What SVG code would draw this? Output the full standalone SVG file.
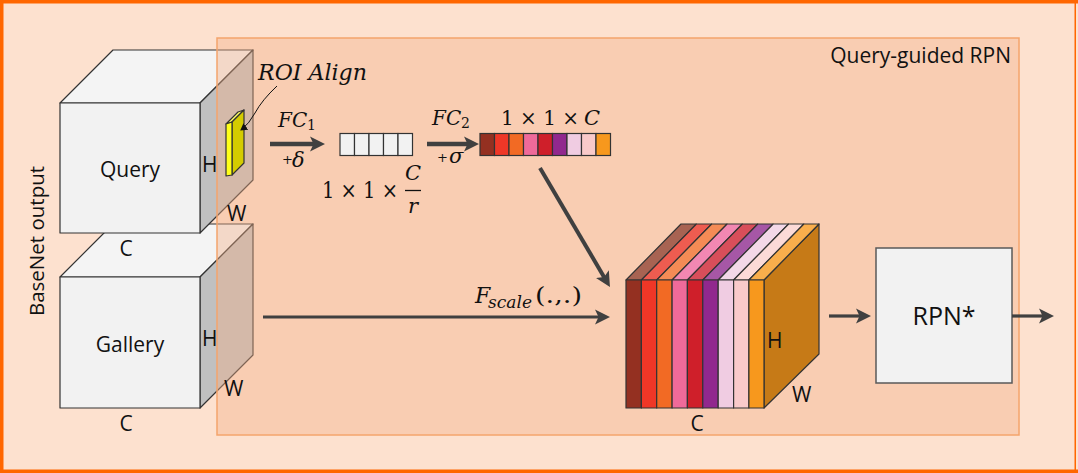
<svg xmlns="http://www.w3.org/2000/svg" width="1078" height="473" viewBox="0 0 1078 473">
<style>
.t{font-family:"Open Sans","Noto Sans","Liberation Sans",sans-serif;fill:#111}
.m{font-family:"DejaVu Serif","Liberation Serif",serif;fill:#111}
.i{font-style:italic}
.edge{stroke:#333;stroke-width:1.2;stroke-linejoin:round}
.arr{stroke:#404040;fill:none;marker-end:url(#ah)}
.cell{stroke:#333;stroke-width:1.2}
</style>
<defs>
<marker id="ah" markerUnits="userSpaceOnUse" markerWidth="16" markerHeight="16" refX="5" refY="8" orient="auto" viewBox="0 0 16 16">
<path d="M0,0.5 L15,8 L0,15.5 L3.5,8 z" fill="#404040"/>
</marker>
<marker id="sa" markerUnits="userSpaceOnUse" markerWidth="8" markerHeight="8" refX="6" refY="4" orient="auto" viewBox="0 0 8 8">
<path d="M0,0 L7,4 L0,8 z" fill="#111"/>
</marker>
</defs>

<!-- background and frame -->
<rect x="0" y="0" width="1078" height="473" fill="#FDE1CF"/>
<rect x="0" y="0" width="1078" height="3.5" fill="#FF6600"/>
<rect x="0" y="0" width="3.5" height="473" fill="#FF6600"/>
<rect x="0" y="469.5" width="1078" height="3.5" fill="#FF6600"/>
<rect x="1074.5" y="0" width="1.5" height="473" fill="#FF6600"/>

<text class="t" font-size="20.5" text-anchor="middle" transform="translate(44,241) rotate(-90)">BaseNet output</text>

<!-- Gallery cube -->
<g id="gallery">
<polygon class="edge" points="60,277 113,224 253,224 200,277" fill="#F4F4F4"/>
<polygon class="edge" points="200,277 253,224 253,355 200,408" fill="#C0C0C0"/>
<rect class="edge" x="60" y="277" width="140" height="131" fill="#F2F2F2"/>
</g>

<!-- Query cube -->
<g id="query">
<polygon class="edge" points="60,103 113,50 253,50 200,103" fill="#F4F4F4"/>
<polygon class="edge" points="200,103 253,50 253,180 200,233" fill="#C0C0C0"/>
<rect class="edge" x="60" y="103" width="140" height="130" fill="#F2F2F2"/>
</g>

<!-- Query-guided RPN region -->
<g id="qrpn">
<rect x="217" y="38" width="802" height="397" fill="#F3B086" fill-opacity="0.4" stroke="#F4A46C" stroke-width="1.5"/>
<text class="t" x="1011" y="63" font-size="21" text-anchor="end">Query-guided RPN</text>
</g>

<g id="gallery-labels">
<text class="t" x="130" y="352" font-size="21" text-anchor="middle">Gallery</text>
<text class="t" x="202" y="346" font-size="21">H</text>
<text class="t" x="224" y="396" font-size="21">W</text>
<text class="t" x="126" y="431" font-size="21" text-anchor="middle">C</text>
</g>

<g id="query-labels">
<text class="t" x="130" y="177" font-size="21" text-anchor="middle">Query</text>
<text class="t" x="202" y="172" font-size="21">H</text>
<text class="t" x="227" y="221" font-size="21">W</text>
<text class="t" x="126" y="256" font-size="21" text-anchor="middle">C</text>
</g>

<!-- ROI slab -->
<g id="roi">
<polygon class="edge" points="226,124 238,112 244,110 232,122" fill="#FFFF66" stroke-width="0.8"/>
<polygon class="edge" points="232,122 244,110 244,163 232,175" fill="#D4CC00" stroke-width="0.8"/>
<polygon class="edge" points="226,124 232,122 232,175 226,176" fill="#FFFF1A" stroke-width="0.8"/>
<text class="m i" x="258" y="80" font-size="23" textLength="109" lengthAdjust="spacingAndGlyphs">ROI Align</text>
</g>

<!-- FC1 vector -->
<g id="fc1vec">
<rect class="cell" x="340" y="133.5" width="14.5" height="22" fill="#F2F2F2"/>
<rect class="cell" x="354.5" y="133.5" width="14.5" height="22" fill="#F2F2F2"/>
<rect class="cell" x="369" y="133.5" width="14.5" height="22" fill="#F2F2F2"/>
<rect class="cell" x="383.5" y="133.5" width="14.5" height="22" fill="#F2F2F2"/>
<rect class="cell" x="398" y="133.5" width="14.5" height="22" fill="#F2F2F2"/>
<text class="m" x="322" y="198" font-size="22" textLength="76" lengthAdjust="spacingAndGlyphs">1 × 1 ×</text>
<text class="m i" x="405" y="180" font-size="21">C</text>
<line x1="405" y1="190.5" x2="421" y2="190.5" stroke="#111" stroke-width="1.3"/>
<text class="m i" x="408" y="213" font-size="21">r</text>
</g>

<!-- FC2 vector -->
<g id="fc2vec">
<rect class="cell" x="480" y="133.5" width="14.5" height="22" fill="#943021"/>
<rect class="cell" x="494.5" y="133.5" width="14.5" height="22" fill="#EF3727"/>
<rect class="cell" x="509" y="133.5" width="14.5" height="22" fill="#F26A24"/>
<rect class="cell" x="523.5" y="133.5" width="14.5" height="22" fill="#EF6A9A"/>
<rect class="cell" x="538" y="133.5" width="14.5" height="22" fill="#CF1F2A"/>
<rect class="cell" x="552.5" y="133.5" width="14.5" height="22" fill="#91288E"/>
<rect class="cell" x="567" y="133.5" width="14.5" height="22" fill="#F0CCE2"/>
<rect class="cell" x="581.5" y="133.5" width="14.5" height="22" fill="#F9CACA"/>
<rect class="cell" x="596" y="133.5" width="14.5" height="22" fill="#F7981D"/>
<text class="m" x="501" y="125" font-size="20">1 × 1 ×<tspan font-style="italic" font-size="21" dx="5">C</tspan></text>
</g>

<!-- scaled cube -->
<g id="scaled">
<polygon class="edge" points="764,280 819,224 819,354 764,408" fill="#C67A17"/>
<g class="edge">
<polygon points="626,280 681,224 696.4,224 641.4,280" fill="#A86352"/>
<polygon points="641.4,280 696.4,224 711.7,224 656.7,280" fill="#EE5C50"/>
<polygon points="656.7,280 711.7,224 727.1,224 672.1,280" fill="#F48B55"/>
<polygon points="672.1,280 727.1,224 742.4,224 687.4,280" fill="#F287B2"/>
<polygon points="687.4,280 742.4,224 757.8,224 702.8,280" fill="#D84E5A"/>
<polygon points="702.8,280 757.8,224 773.2,224 718.2,280" fill="#A657A6"/>
<polygon points="718.2,280 773.2,224 788.6,224 733.6,280" fill="#F3D8E8"/>
<polygon points="733.6,280 788.6,224 803.9,224 748.9,280" fill="#FCDAD7"/>
<polygon points="748.9,280 803.9,224 819,224 764,280" fill="#F9AE4C"/>
<rect x="626" y="280" width="15.4" height="128" fill="#943021"/>
<rect x="641.4" y="280" width="15.3" height="128" fill="#EF3727"/>
<rect x="656.7" y="280" width="15.4" height="128" fill="#F26A24"/>
<rect x="672.1" y="280" width="15.3" height="128" fill="#EF6A9A"/>
<rect x="687.4" y="280" width="15.4" height="128" fill="#CF1F2A"/>
<rect x="702.8" y="280" width="15.4" height="128" fill="#91288E"/>
<rect x="718.2" y="280" width="15.4" height="128" fill="#F0CCE2"/>
<rect x="733.6" y="280" width="15.3" height="128" fill="#F9CACA"/>
<rect x="748.9" y="280" width="15.1" height="128" fill="#F7981D"/>
</g>
<text class="t" x="767" y="348" font-size="21">H</text>
<text class="t" x="792" y="402" font-size="21">W</text>
<text class="t" x="697" y="431" font-size="21" text-anchor="middle">C</text>
</g>

<!-- RPN* -->
<g id="rpn">
<rect x="876" y="248" width="136" height="135" fill="#F2F2F2" stroke="#595959" stroke-width="1.5"/>
<text class="t" x="944" y="325" font-size="25" text-anchor="middle">RPN*</text>
</g>

<!-- connectors -->
<g id="connectors">
<path d="M277,86 Q262,100 255,113 Q249,124 241,130" fill="none" stroke="#111" stroke-width="1" marker-end="url(#sa)"/>
<line class="arr" x1="270" y1="144" x2="315" y2="144" stroke-width="4.5"/>
<line class="arr" x1="427" y1="144" x2="469" y2="144" stroke-width="4.5"/>
<line class="arr" x1="540" y1="168" x2="604.9" y2="278.4" stroke-width="4"/>
<line class="arr" x1="263" y1="317" x2="600" y2="317" stroke-width="3.2"/>
<line class="arr" x1="829" y1="316" x2="861" y2="316" stroke-width="3.2"/>
<line class="arr" x1="1012" y1="316" x2="1044" y2="316" stroke-width="3.2"/>
</g>

<!-- arrow labels -->
<g id="labels">
<text class="m i" x="278" y="127" font-size="20">FC</text>
<text class="m" x="307" y="130" font-size="14">1</text>
<text class="m" x="282" y="164" font-size="13">+</text>
<text class="m i" x="292" y="167" font-size="21">δ</text>
<text class="m i" x="432" y="125" font-size="20">FC</text>
<text class="m" x="461" y="128" font-size="14">2</text>
<text class="m" x="437" y="162" font-size="13">+</text>
<text class="m i" x="449" y="163" font-size="21">σ</text>
<text class="m i" x="475" y="303" font-size="22">F</text>
<text class="m i" x="488" y="308" font-size="16" textLength="44" lengthAdjust="spacingAndGlyphs">scale</text>
<text class="m" x="535" y="303" font-size="22" textLength="47" lengthAdjust="spacingAndGlyphs">(.,.)</text>
</g>
</svg>
